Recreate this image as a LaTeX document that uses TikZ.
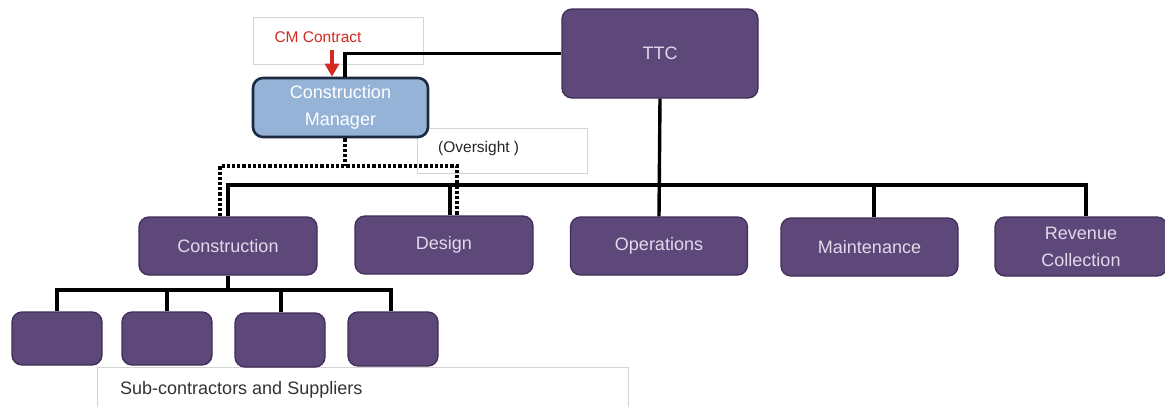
\documentclass[tikz,border=0pt]{standalone}
\usepackage{fontspec}
\setmainfont{Liberation Sans}
\usetikzlibrary{arrows.meta}
\definecolor{purp}{HTML}{5E4879}
\definecolor{purpdark}{HTML}{3F2E57}
\definecolor{purptext}{HTML}{E2DAEC}
\definecolor{cmblue}{HTML}{95B3D7}
\definecolor{cmborder}{HTML}{1B2A40}
\definecolor{cmred}{HTML}{D42A22}
\definecolor{boxgray}{HTML}{D4D4D4}
\tikzset{
  pbox/.style={draw=purpdark, line width=1.3pt, fill=purp, rounded corners=10pt,
    text=purptext, align=center, inner sep=0pt,
    font=\fontsize{18}{27}\selectfont},
  cmstyle/.style={draw=cmborder, line width=2.6pt, fill=cmblue, rounded corners=10pt,
    text=white, align=center, inner sep=0pt,
    font=\fontsize{18}{27}\selectfont},
  wbox/.style={draw=boxgray, line width=0.8pt, fill=white, inner sep=0pt},
  conn/.style={line width=3.4pt, black},
  dotline/.style={line width=4pt, black, dash pattern=on 3.2pt off 2pt},
  redarrow/.style={line width=3.6pt, cmred, -{Triangle[width=14pt,length=13pt]}},
}
\begin{document}
\begin{tikzpicture}[x=1pt,y=-1pt]
\useasboundingbox (0,0) rectangle (1165,407);
% white label boxes
\node[wbox, minimum width=170pt, minimum height=47pt] (cmcbox) at (338,40.5) {};
\node[text=cmred, font=\fontsize{15.5}{18}\selectfont, inner sep=0pt] (cmctext) at (318,37) {CM Contract};
\node[wbox, minimum width=170pt, minimum height=45pt] (ovbox) at (502,150.5) {};
\node[font=\fontsize{15.5}{18}\selectfont, text=black!85, anchor=west, inner sep=0pt] (ovtext) at (438,148) {(Oversight )};
\node[wbox, minimum width=531pt, minimum height=50pt, anchor=north west] (subbox) at (97,367) {};
\node[font=\fontsize{18}{21}\selectfont, text=black!80, anchor=west, inner sep=0pt] (subtext) at (120,390) {Sub-contractors and Suppliers};

% main boxes
\node[pbox, minimum width=196pt, minimum height=89pt] (ttc) at (660,53.5) {TTC};
\node[cmstyle, minimum width=175pt, minimum height=59pt] (cm) at (340.5,107.5) {Construction\\Manager};
\node[pbox, minimum width=178pt, minimum height=58pt] (constr) at (228,246) {Construction};
\node[pbox, minimum width=178pt, minimum height=58pt] (design) at (444,245) {Design};
\node[pbox, minimum width=177pt, minimum height=58pt] (ops) at (659,246) {Operations};
\node[pbox, minimum width=177pt, minimum height=58pt] (maint) at (869.5,247) {Maintenance};
\node[pbox, minimum width=172pt, minimum height=59pt] (rev) at (1081,246.5) {Revenue\\Collection};
\node[pbox, minimum width=90pt, minimum height=53pt] (s1) at (57,338.5) {};
\node[pbox, minimum width=90pt, minimum height=53pt] (s2) at (167,338.5) {};
\node[pbox, minimum width=90pt, minimum height=54pt] (s3) at (280,340) {};
\node[pbox, minimum width=90pt, minimum height=54pt] (s4) at (393,339) {};

% connectors
\coordinate (busR) at (1086,185);
\coordinate (subR) at (391,290);
\coordinate (ovR) at (457,166);
\coordinate (arrtop) at (332,50);
\draw[conn] (ttc.west) -| ([xshift=4.5pt]cm.north);
\draw[conn] (ttc.south) -- (ops.north);
\draw[conn] (constr.north) |- (busR) -- (busR |- rev.north);
\draw[conn] ([xshift=6pt]design.north) -- ([xshift=6pt]design.north |- busR);
\draw[conn] ([xshift=4.5pt]maint.north) -- ([xshift=4.5pt]maint.north |- busR);
\draw[conn] (constr.south) -- (constr.south |- subR);
\draw[conn] (s1.north) |- (subR) -- (subR |- s4.north);
\draw[conn] (s2.north) -- (s2.north |- subR);
\draw[conn] ([xshift=1pt]s3.north) -- ([xshift=1pt]s3.north |- subR);
\draw[dotline] ([xshift=4.5pt]cm.south) -- ([xshift=4.5pt]cm.south |- ovR);
\draw[dotline] ([xshift=-8pt]constr.north) |- (ovR) -- (ovR |- design.north);
\draw[redarrow] (arrtop) -- (arrtop |- cm.north);
\end{tikzpicture}
\end{document}
